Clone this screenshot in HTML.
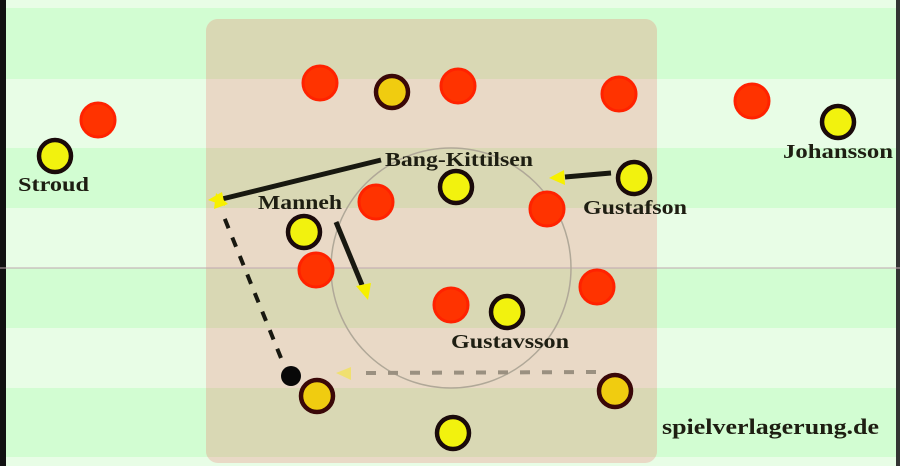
<!DOCTYPE html>
<html><head><meta charset="utf-8"><style>html,body{margin:0;padding:0;background:#e8fde6}svg{display:block}text{font-family:"Liberation Serif",serif;font-weight:bold;fill:#1e1e12}</style></head><body>
<svg width="900" height="466" viewBox="0 0 900 466" xmlns="http://www.w3.org/2000/svg">
<rect x="0" y="0" width="900" height="466" fill="#e8fde6"/>
<g fill="#d2fdd2">
<rect x="0" y="8" width="900" height="71"/>
<rect x="0" y="148" width="900" height="60"/>
<rect x="0" y="268" width="900" height="60"/>
<rect x="0" y="388" width="900" height="69"/>
</g>
<rect x="0" y="0" width="6" height="466" fill="#111"/>
<rect x="896" y="0" width="4" height="466" fill="#333"/>
<clipPath id="c"><rect x="206" y="19" width="451" height="444" rx="12"/></clipPath>
<g clip-path="url(#c)">
<rect x="206" y="19" width="451" height="444" fill="#e9d9c6"/>
<g fill="#d9d8b4">
<rect x="206" y="8" width="451" height="71"/>
<rect x="206" y="148" width="451" height="60"/>
<rect x="206" y="268" width="451" height="60"/>
<rect x="206" y="388" width="451" height="69"/>
</g>
</g>
<line x1="0" y1="268" x2="900" y2="268" stroke="#c0a8b0" stroke-width="1"/>
<circle cx="451" cy="268" r="120" fill="none" stroke="#b0a898" stroke-width="1.5"/>
<g fill="#ff3300" stroke="#ff2200" stroke-width="3">
<circle cx="320" cy="83" r="17"/><circle cx="458" cy="86" r="17"/><circle cx="619" cy="94" r="17"/><circle cx="752" cy="101" r="17"/><circle cx="98" cy="120" r="17"/><circle cx="376" cy="202" r="17"/><circle cx="547" cy="209" r="17"/><circle cx="316" cy="270" r="17"/><circle cx="451" cy="305" r="17"/><circle cx="597" cy="287" r="17"/>
</g>
<g fill="#f2f20e" stroke="#1a0a0a" stroke-width="4.5">
<circle cx="55" cy="156" r="16"/><circle cx="838" cy="122" r="16"/><circle cx="456" cy="187" r="16"/><circle cx="634" cy="178" r="16"/><circle cx="304" cy="232" r="16"/><circle cx="507" cy="312" r="16"/><circle cx="453" cy="433" r="16"/>
</g>
<g fill="#f0cc10" stroke="#3a0808" stroke-width="4.5">
<circle cx="392" cy="92" r="16"/><circle cx="317" cy="396" r="16"/><circle cx="615" cy="391" r="16"/>
</g>
<circle cx="291" cy="376" r="10" fill="#080808"/>
<g stroke="#181810" stroke-width="5">
<line x1="381" y1="160" x2="222" y2="199"/>
<line x1="611" y1="173" x2="565" y2="177"/>
<line x1="336" y1="222" x2="362" y2="285"/>
</g>
<line x1="281" y1="358" x2="222" y2="212" stroke="#181810" stroke-width="4" stroke-dasharray="10,10"/>
<line x1="596" y1="372" x2="362" y2="373" stroke="#9a9080" stroke-width="4" stroke-dasharray="10,12"/>
<g fill="#f7f000">
<polygon points="208,200 222,192 225,206"/>
<polygon points="549,178 564,170 565,185"/>
<polygon points="368,300 356,286 371,283"/>
<polygon points="216,193 214,209 228,204"/>
</g>
<polygon points="336,373 351,367 351,380" fill="#f0e070"/>
<text x="385" y="166" font-size="20" textLength="148" lengthAdjust="spacingAndGlyphs">Bang-Kittilsen</text>
<text x="18" y="191" font-size="20" textLength="71" lengthAdjust="spacingAndGlyphs">Stroud</text>
<text x="783" y="158" font-size="20" textLength="110" lengthAdjust="spacingAndGlyphs">Johansson</text>
<text x="258" y="209" font-size="20" textLength="84" lengthAdjust="spacingAndGlyphs">Manneh</text>
<text x="583" y="214" font-size="20" textLength="104" lengthAdjust="spacingAndGlyphs">Gustafson</text>
<text x="451" y="348" font-size="20" textLength="118" lengthAdjust="spacingAndGlyphs">Gustavsson</text>
<text x="662" y="434" font-size="22" fill="#111" textLength="217" lengthAdjust="spacingAndGlyphs">spielverlagerung.de</text>
</svg>
</body></html>
